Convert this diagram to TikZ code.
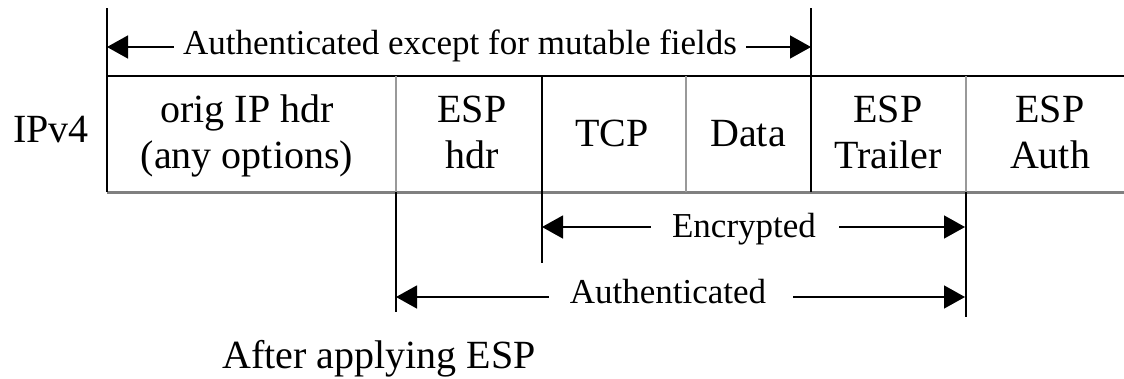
\documentclass[tikz,border=0pt]{standalone}
\usepackage{fontspec}
\setmainfont{Liberation Serif}
\usetikzlibrary{arrows.meta}
\begin{document}
\begin{tikzpicture}[x=1pt,y=-1pt,
  rule/.style={line width=1.4pt,black},
  soft/.style={line width=2pt,black!40},
  floor/.style={line width=3pt,black!50},
  cell/.style={font=\fontsize{40}{48}\selectfont,anchor=base,inner sep=0pt},
  span/.style={font=\fontsize{35}{42}\selectfont,anchor=base,inner sep=0pt},
  tip/.style={-{Triangle[length=21pt,width=23pt]},line width=1.4pt}
]
\useasboundingbox (0,0) rectangle (1124,378);

% column boundaries of the packet
\coordinate (c0t) at (107,8);   \coordinate (c0b) at (107,192);
\coordinate (c1t) at (396,76);  \coordinate (c1b) at (396,192); \coordinate (c1x) at (396,312);
\coordinate (c2t) at (542,76);  \coordinate (c2x) at (542,263);
\coordinate (c3t) at (686,76);  \coordinate (c3b) at (686,192);
\coordinate (c4t) at (811,8);   \coordinate (c4b) at (811,192);
\coordinate (c5t) at (966,76);  \coordinate (c5b) at (966,192); \coordinate (c5x) at (966,317);
\coordinate (topL) at (107,76); \coordinate (topR) at (1124,76);
\coordinate (botL) at (107,192); \coordinate (botR) at (1124,192);

% packet frame
\draw[floor] (botL) -- (botR);
\draw[rule] (topL) -- (topR);
\draw[rule] (c0t) -- (c0b);
\draw[rule] (c4t) -- (c4b);
\draw[soft] (c1t) -- (c1b);
\draw[rule] (c1b) -- (c1x);
\draw[rule] (c2t) -- (c2x);
\draw[soft] (c3t) -- (c3b);
\draw[soft] (c5t) -- (c5b);
\draw[rule] (c5b) -- (c5x);

% field names
\node[cell] (orig1) at (247,122) {orig IP hdr};
\node[cell] (orig2) at (247,168) {(any options)};
\node[cell] (esph1) at (472,122) {ESP};
\node[cell] (esph2) at (472,168) {hdr};
\node[cell] (tcp)   at (612,146) {TCP};
\node[cell] (data)  at (748,146) {Data};
\node[cell] (espt1) at (888,122) {ESP};
\node[cell] (espt2) at (888,168) {Trailer};
\node[cell] (espa1) at (1050,122) {ESP};
\node[cell] (espa2) at (1050,168) {Auth};

\node[cell] (ipv4) at (51,142) {IPv4};
\node[cell,anchor=base west] (after) at (222,368) {After applying ESP};

% coverage spans
\coordinate (a0) at (107,47);  \coordinate (a1) at (811,47);
\coordinate (e0) at (542,227); \coordinate (e1) at (965,227);
\coordinate (u0) at (396,297); \coordinate (u1) at (965,297);

\node[span] (lblA) at (460,54) {Authenticated except for mutable fields};
\draw[tip] ([xshift=-9pt]lblA.west |- a0) -- (a0);
\draw[tip] ([xshift=9pt]lblA.east |- a1) -- (a1);

\node[span] (lblE) at (744,237) {Encrypted};
\draw[tip] ([xshift=-21pt]lblE.west |- e0) -- (e0);
\draw[tip] ([xshift=23pt]lblE.east |- e1) -- (e1);

\node[span] (lblU) at (668,303) {Authenticated};
\draw[tip] ([xshift=-21pt]lblU.west |- u0) -- (u0);
\draw[tip] ([xshift=27pt]lblU.east |- u1) -- (u1);
\end{tikzpicture}
\end{document}
